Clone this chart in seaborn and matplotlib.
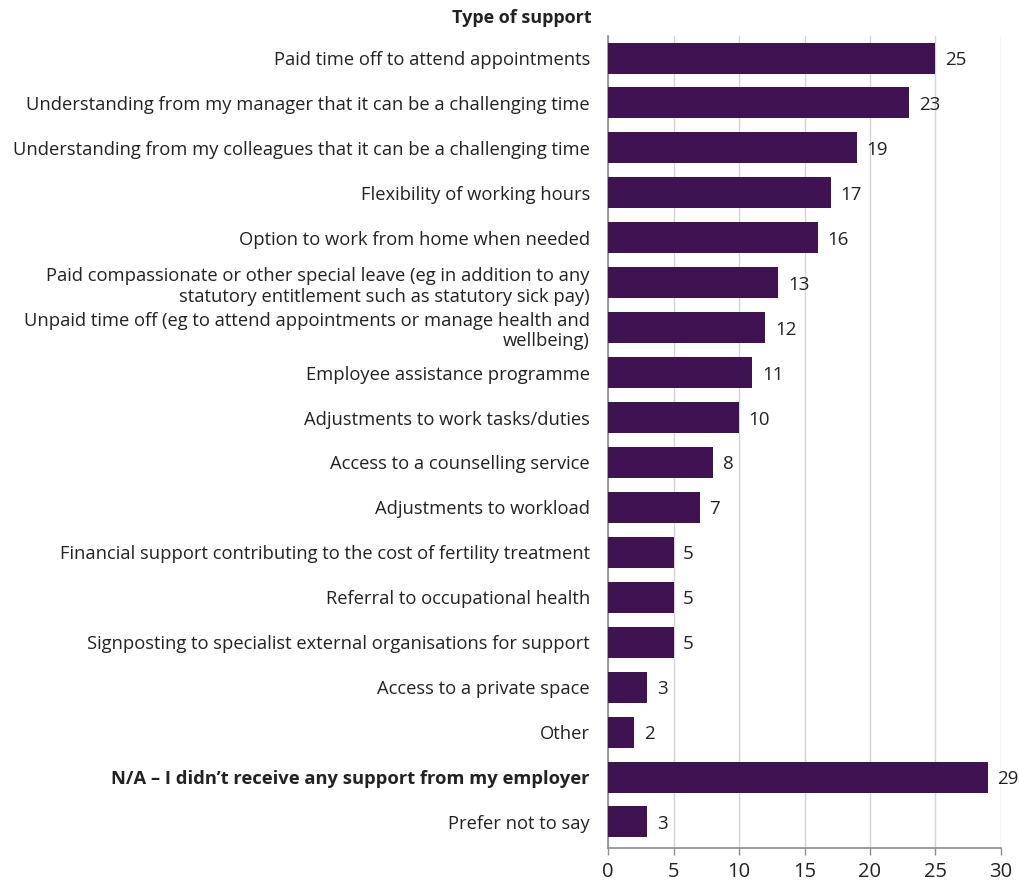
import matplotlib
matplotlib.use("Agg")
import matplotlib.pyplot as plt
import seaborn as sns
import pandas as pd

categories = [
    "Paid time off to attend appointments",
    "Understanding from my manager that it can be a challenging time",
    "Understanding from my colleagues that it can be a challenging time",
    "Flexibility of working hours",
    "Option to work from home when needed",
    "Paid compassionate or other special leave (eg in addition to any\nstatutory entitlement such as statutory sick pay)",
    "Unpaid time off (eg to attend appointments or manage health and\nwellbeing)",
    "Employee assistance programme",
    "Adjustments to work tasks/duties",
    "Access to a counselling service",
    "Adjustments to workload",
    "Financial support contributing to the cost of fertility treatment",
    "Referral to occupational health",
    "Signposting to specialist external organisations for support",
    "Access to a private space",
    "Other",
    "N/A \u2013 I didn\u2019t receive any support from my employer",
    "Prefer not to say",
]
values = [25, 23, 19, 17, 16, 13, 12, 11, 10, 8, 7, 5, 5, 5, 3, 2, 29, 3]
x_ticks = [0, 5, 10, 15, 20, 25, 30]
bold_category = "N/A \u2013 I didn\u2019t receive any support from my employer"

sns.set_theme(style="white")
plt.rcParams["font.family"] = ["Open Sans", "DejaVu Sans"]

BAR = "#3f1351"
TEXT = "#222222"
GRID = "#d4d4d4"
SPINE = "#8c8c8c"

df = pd.DataFrame({"category": categories, "value": values})

fig = plt.figure(figsize=(10.19, 8.83), dpi=100)
ax = fig.add_axes([0.5967, 0.0396, 0.3856, 0.9196])

sns.barplot(data=df, x="value", y="category", orient="h", color=BAR,
            saturation=1, width=0.69, linewidth=0, ax=ax, zorder=3)

ax.set_xlim(0, 30)
ax.set_ylim(len(categories) - 1 + 0.58, -0.49)
ax.set_xticks(x_ticks)
ax.set_xticklabels([str(t) for t in x_ticks], fontsize=14.5, color=TEXT)
ax.xaxis.grid(True, color=GRID, linewidth=1, zorder=0)
ax.yaxis.grid(False)
ax.set_xlabel("")
ax.set_ylabel("")

for side in ["top", "right"]:
    ax.spines[side].set_visible(False)
for side in ["left", "bottom"]:
    ax.spines[side].set_color(SPINE)
    ax.spines[side].set_linewidth(1.2)

ax.tick_params(axis="x", which="both", bottom=True, length=5, width=1,
               color=SPINE, pad=5)
ax.tick_params(axis="y", left=False, pad=7)

for lbl in ax.get_yticklabels():
    lbl.set_fontsize(13.2)
    lbl.set_color(TEXT)
    lbl.set_multialignment("right")
    if lbl.get_text() == bold_category:
        lbl.set_fontweight("bold")

for container in ax.containers:
    texts = ax.bar_label(container, labels=[str(v) for v in values], padding=7,
                         fontsize=13.5, color=TEXT)
    for t in texts:
        t.set_verticalalignment("center_baseline")

fig.text(592 / 1019, 1 - 18 / 883, "Type of support", ha="right", va="center",
         fontsize=13, fontweight="bold", color=TEXT)

fig.savefig("out.png", dpi=100, facecolor="white")
